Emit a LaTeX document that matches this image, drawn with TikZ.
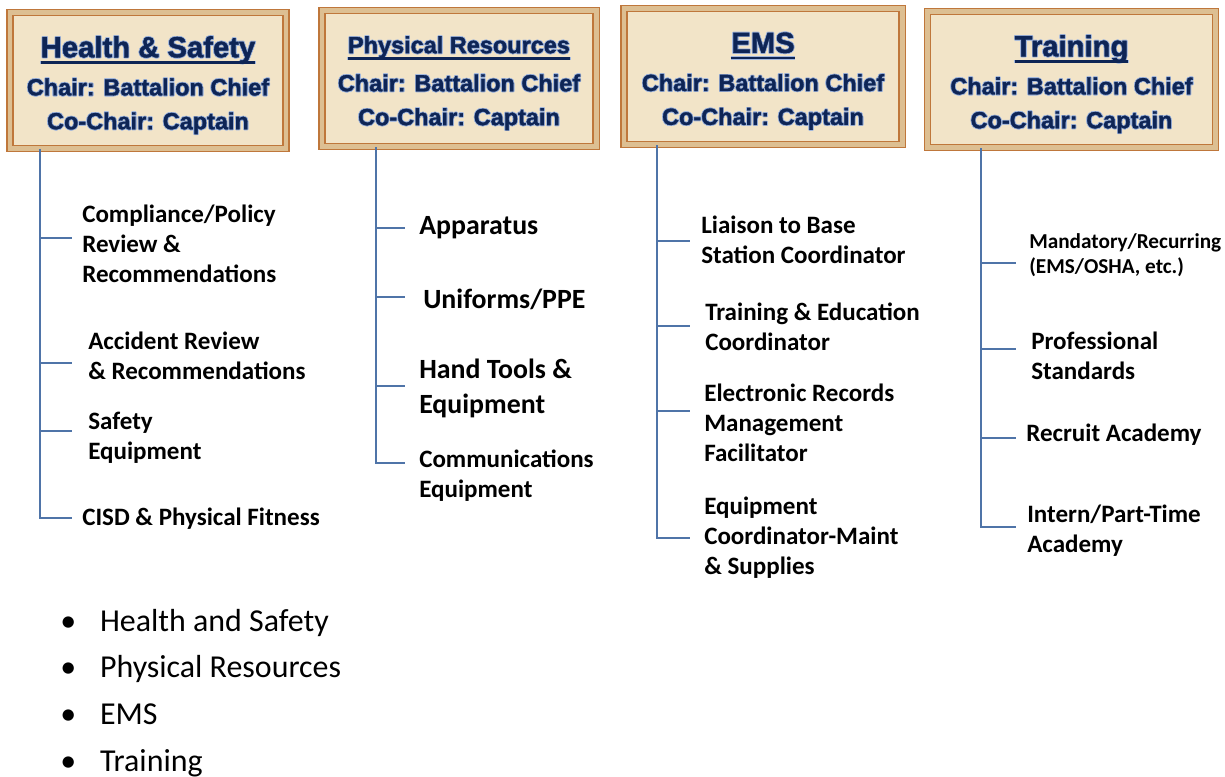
\documentclass[tikz,border=0pt]{standalone}
\usepackage{fontspec}
\setmainfont{Carlito}
\newfontfamily\headfont{Liberation Sans}[FakeBold=1.4]
\usepackage{contour}
\contourlength{0.5pt}
\usetikzlibrary{positioning,calc}

\definecolor{parchment}{HTML}{F2E4C8}
\definecolor{boxedge}{HTML}{BF773B}
\definecolor{bevel}{HTML}{DDBF92}
\definecolor{navy}{HTML}{0E2556}
\definecolor{glow}{HTML}{A3B8DE}
\definecolor{branchblue}{HTML}{4F74A8}

% thick rule under the committee name
\newcommand\thickul[1]{\setbox0\hbox{#1}\rlap{\rule[-4.5pt]{\wd0}{1.6pt}}\box0}
% committee name, chair and co-chair
\newcommand\chairs[2]{{\fontsize{#1}{24}\selectfont\contour{glow}{\thickul{#2}}}\\[3pt]
  \contour{glow}{Chair: Battalion Chief}\\\contour{glow}{Co-Chair: Captain}}

\tikzset{
chairbox/.style={draw=boxedge,double=bevel,double distance=3.5pt,line width=0.9pt,
  fill=parchment,inner sep=0pt,minimum height=3.4cm},
chairtext/.style={align=center,text=navy,inner sep=0pt,
  font=\headfont\bfseries\fontsize{16.7}{24.1}\selectfont},
branch/.style={draw=branchblue,line width=0.8pt},
item/.style={anchor=west,align=left,inner sep=0pt,font=\bfseries\fontsize{17.8}{21.3}\selectfont},
big/.style={font=\bfseries\fontsize{19.8}{24.8}\selectfont},
small/.style={font=\bfseries\fontsize{15.1}{17.7}\selectfont},
listitem/.style={anchor=base west,inner sep=0pt,font=\fontsize{22.7}{27}\selectfont}
}

\begin{document}
\begin{tikzpicture}[x=0.025cm,y=-0.025cm]
\useasboundingbox[fill=white] (0,0) rectangle (1225,777);

% committee boxes
\node[chairbox,minimum width=6.9cm]  (hs)  at (148,80.5)    {};
\node[chairbox,minimum width=6.85cm] (pr)  at (459,78.5)    {};
\node[chairbox,minimum width=6.95cm] (ems) at (763,76.5)    {};
\node[chairbox,minimum width=7.2cm]  (tr)  at (1071.5,79.5) {};

\node[chairtext] (hstext)  at ($(hs.center)+(0,5)$)  {\chairs{20.8}{Health \& Safety}};
\node[chairtext] (prtext)  at ($(pr.center)+(0,5)$)  {\chairs{16.7}{Physical Resources}};
\node[chairtext] (emstext) at ($(ems.center)+(0,5)$) {\chairs{20.8}{EMS}};
\node[chairtext] (trtext)  at ($(tr.center)+(0,5)$)  {\chairs{20.8}{Training}};

% Health & Safety
\node[item] (hs1) at (82,244) {Compliance/Policy\\Review \&\\Recommendations};
\node[item] (hs2) at (88,356) {Accident Review\\\& Recommendations};
\node[item] (hs3) at (88,438) {Safety\\Equipment};
\node[item] (hs4) at (82,519) {CISD \& Physical Fitness};

% Physical Resources
\node[item,big] (pr1) at (419,228) {Apparatus};
\node[item,big] (pr2) at (423,299) {Uniforms/PPE};
\node[item,big] (pr3) at (419,388) {Hand Tools \&\\Equipment};
\node[item]     (pr4) at (419,476) {Communications\\Equipment};

% EMS
\node[item] (ems1) at (701,240) {Liaison to Base\\Station Coordinator};
\node[item] (ems2) at (705,327) {Training \& Education\\Coordinator};
\node[item] (ems3) at (704,423) {Electronic Records\\Management\\Facilitator};
\node[item] (ems4) at (704,538) {Equipment\\Coordinator-Maint\\\& Supplies};

% Training
\node[item,small] (tr1) at (1029,255) {Mandatory/Recurring\\(EMS/OSHA, etc.)};
\node[item]       (tr2) at (1031,356) {Professional\\Standards};
\node[item]       (tr3) at (1026,435) {Recruit Academy};
\node[item]       (tr4) at (1027,531) {Intern/Part-Time\\Academy};

% trunks and tick ends
\coordinate (hstrunk)  at (40,0);   \coordinate (hsend)  at (72,0);
\coordinate (prtrunk)  at (376,0);  \coordinate (prend)  at (405,0);
\coordinate (emstrunk) at (657,0);  \coordinate (emsend) at (690,0);
\coordinate (trtrunk)  at (981,0);  \coordinate (trend)  at (1016,0);

\foreach \n/\d in {1/-6,2/7,3/-7,4/-1}
  \draw[branch] (hs.south -| hstrunk) |- ($(hs\n.west -| hsend)+(0,\d)$);
\foreach \n/\d in {1/0,2/-2,3/-2,4/-13}
  \draw[branch] (pr.south -| prtrunk) |- ($(pr\n.west -| prend)+(0,\d)$);
\foreach \n/\d in {1/1,2/-1,3/-12,4/0}
  \draw[branch] (ems.south -| emstrunk) |- ($(ems\n.west -| emsend)+(0,\d)$);
\foreach \n/\d in {1/8,2/-7,3/3,4/-4}
  \draw[branch] (tr.south -| trtrunk) |- ($(tr\n.west -| trend)+(0,\d)$);

% list of committees
\foreach \t [count=\i] in {Health and Safety,Physical Resources,EMS,Training}
  \node[listitem] (li\i) at (60,{631+46.7*(\i-1)}) {\makebox[28.3pt][l]{\textbullet}\t};
\end{tikzpicture}
\end{document}
